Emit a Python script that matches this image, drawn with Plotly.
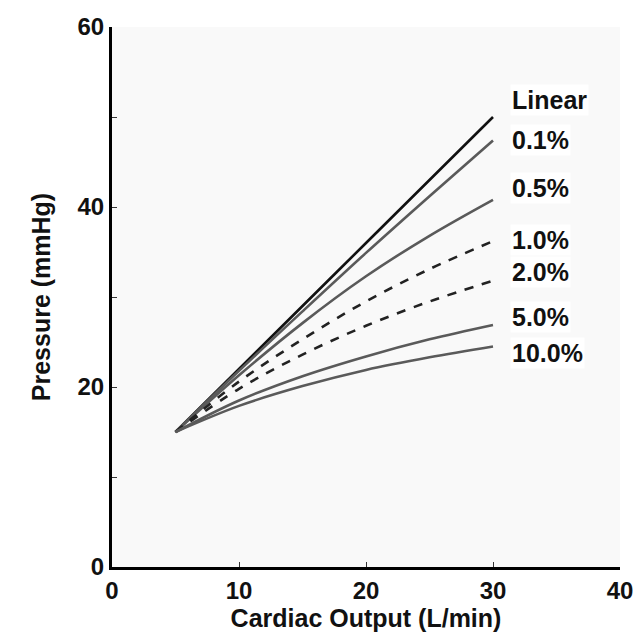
import plotly.graph_objects as go

x_vals = [5, 10, 15, 20, 25, 30]
linear = [15.0, 22.0, 29.0, 36.0, 43.0, 50.0]
p01 = [15.0, 21.8, 28.4, 34.9, 41.2, 47.4]
p05 = [15.0, 21.3, 27.1, 32.3, 36.8, 40.8]
p10 = [15.0, 20.6, 25.3, 29.5, 33.1, 36.2]
p20 = [15.0, 19.8, 23.6, 26.8, 29.5, 31.8]
p50 = [15.0, 18.5, 21.2, 23.4, 25.3, 26.9]
p100 = [15.0, 17.9, 20.1, 21.9, 23.3, 24.5]

series_names = ["Linear", "0.1%", "0.5%", "1.0%", "2.0%", "5.0%", "10.0%"]
series_vals = [linear, p01, p05, p10, p20, p50, p100]
label_y = [51.9, 47.4, 42.1, 36.3, 32.8, 27.8, 23.8]

styles = [
    ("#111111", "solid"),
    ("#5a5a5a", "solid"),
    ("#5a5a5a", "solid"),
    ("#222222", "dash"),
    ("#222222", "dash"),
    ("#5a5a5a", "solid"),
    ("#5a5a5a", "solid"),
]

FONT = "Arial, Liberation Sans, sans-serif"

fig = go.Figure()
for name, vals, (col, dash) in zip(series_names, series_vals, styles):
    fig.add_trace(go.Scatter(
        x=x_vals, y=vals, mode="lines", name=name,
        line=dict(color=col, width=2.6, dash=dash, shape="spline"),
        showlegend=False,
    ))

for name, ly in zip(series_names, label_y):
    fig.add_annotation(
        x=31.3, y=ly, text="<b>%s</b>" % name, showarrow=False,
        xanchor="left", yanchor="middle", bgcolor="white",
        font=dict(family=FONT, size=25, color="#111111"),
    )

fig.update_layout(
    width=636, height=637,
    margin=dict(l=112, r=16, t=27, b=70),
    paper_bgcolor="white",
    plot_bgcolor="#f9f9f9",
    font=dict(family=FONT, size=24, color="#111111"),
)
fig.update_xaxes(
    range=[0, 40], dtick=10, showline=True, linewidth=3, linecolor="black",
    showgrid=False, zeroline=False, ticks="inside", ticklen=5, tickwidth=1,
    tickcolor="#333333", automargin=False,
    title=dict(text="<b>Cardiac Output (L/min)</b>", font=dict(size=25), standoff=2),
    tickfont=dict(size=24, weight="bold"),
)
fig.update_yaxes(
    range=[0, 60], dtick=20, showline=True, linewidth=3, linecolor="black",
    showgrid=False, zeroline=False, ticks="inside", ticklen=5, tickwidth=1,
    tickcolor="#333333", automargin=False,
    minor=dict(dtick=10, ticks="inside", ticklen=5, tickwidth=1, tickcolor="#333333"),
    title=dict(text="<b>Pressure (mmHg)</b>", font=dict(size=25), standoff=20),
    tickfont=dict(size=24, weight="bold"),
)

fig.write_html(
    "out.html",
    config={"displayModeBar": False},
    post_script="document.body.style.margin='0';document.body.style.overflow='hidden';",
)
